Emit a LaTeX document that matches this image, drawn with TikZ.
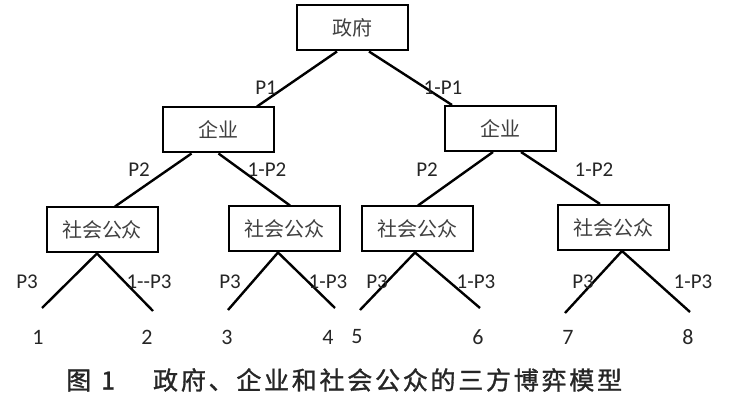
\documentclass[tikz,border=0pt]{standalone}
\usepackage{fontspec}
\setmainfont{Carlito}
\newfontfamily\cjk{Noto Sans CJK SC}
\newfontfamily\cjkcap[LetterSpace=11,FakeBold=1.2]{Noto Sans CJK SC}
\begin{document}
\begin{tikzpicture}[x=1pt,y=-1pt,
  box/.style={draw,line width=2pt,minimum width=111pt,minimum height=45pt,inner sep=0pt,font=\cjk\fontsize{20}{22}\selectfont,text=black!75},
  edge/.style={line width=2.4pt},
  lab/.style={font=\fontsize{21}{23}\selectfont,inner sep=0pt,text=black!85},
  num/.style={font=\fontsize{22}{24}\selectfont,inner sep=0pt,text=black!85}]
\useasboundingbox (0,0) rectangle (732,403);
\fill[white] (0,0) rectangle (732,403);
% boxes
\node[box] (gov) at (352.5,28) {政府};
\node[box] (ent1) at (218.5,130) {企业};
\node[box] (ent2) at (500.5,128.5) {企业};
\node[box] (sc1) at (102,230) {社会公众};
\node[box] (sc2) at (284,229) {社会公众};
\node[box] (sc3) at (417,229) {社会公众};
\node[box] (sc4) at (613,227.5) {社会公众};
% leaf ends
\coordinate (l1) at (42,308);
\coordinate (l2) at (153,311);
\coordinate (l3) at (228,310);
\coordinate (l4) at (335,308);
\coordinate (l5) at (360,310);
\coordinate (l6) at (480,308);
\coordinate (l7) at (565,313);
\coordinate (l8) at (690,312);
% connectors
\draw[edge] ([xshift=-15.5pt]gov.south) -- ([xshift=38.5pt]ent1.north);
\draw[edge] ([xshift=16.5pt]gov.south) -- ([xshift=-48.5pt]ent2.north);
\draw[edge] ([xshift=-27pt]ent1.south) -- ([xshift=13pt]sc1.north);
\draw[edge] (ent1.south) -- ([xshift=6pt]sc2.north);
\draw[edge] ([xshift=-7.5pt]ent2.south) -- ([xshift=1pt]sc3.north);
\draw[edge] ([xshift=20.5pt]ent2.south) -- ([xshift=-13pt]sc4.north);
\draw[edge] (l1) -- ([xshift=-5pt]sc1.south) -- (l2);
\draw[edge] (l3) -- ([xshift=-6pt]sc2.south) -- (l4);
\draw[edge] (l5) -- ([xshift=-2pt]sc3.south) -- (l6);
\draw[edge] (l7) -- ([xshift=9pt]sc4.south) -- (l8);
% labels
\node[lab] (p1) at (266,88) {P1};
\node[lab] (q1) at (443,88) {1-P1};
\node[lab] (p2a) at (139,170) {P2};
\node[lab] (q2a) at (267,170) {1-P2};
\node[lab] (p2b) at (427,170) {P2};
\node[lab] (q2b) at (594,170) {1-P2};
\node[lab] (p3a) at (27,282) {P3};
\node[lab] (q3a) at (149,282) {1-{}-P3};
\node[lab] (p3b) at (230,282) {P3};
\node[lab] (q3b) at (328,282) {1-P3};
\node[lab] (p3c) at (377,282) {P3};
\node[lab] (q3c) at (476,282) {1-P3};
\node[lab] (p3d) at (583,282) {P3};
\node[lab] (q3d) at (693,282) {1-P3};
% outcomes
\node[num] (n1) at (38,337) {1};
\node[num] (n2) at (147,337) {2};
\node[num] (n3) at (227,337) {3};
\node[num] (n4) at (328,337) {4};
\node[num] (n5) at (357,337) {5};
\node[num] (n6) at (478,337) {6};
\node[num] (n7) at (568,337) {7};
\node[num] (n8) at (688,337) {8};
% caption
\node[anchor=west,inner sep=0pt,font=\cjkcap\fontsize{25}{28}\selectfont,text=black!85] (cap) at (66,380) {图\hspace{10pt}1\hspace{38pt}政府、企业和社会公众的三方博弈模型};
\end{tikzpicture}
\end{document}
